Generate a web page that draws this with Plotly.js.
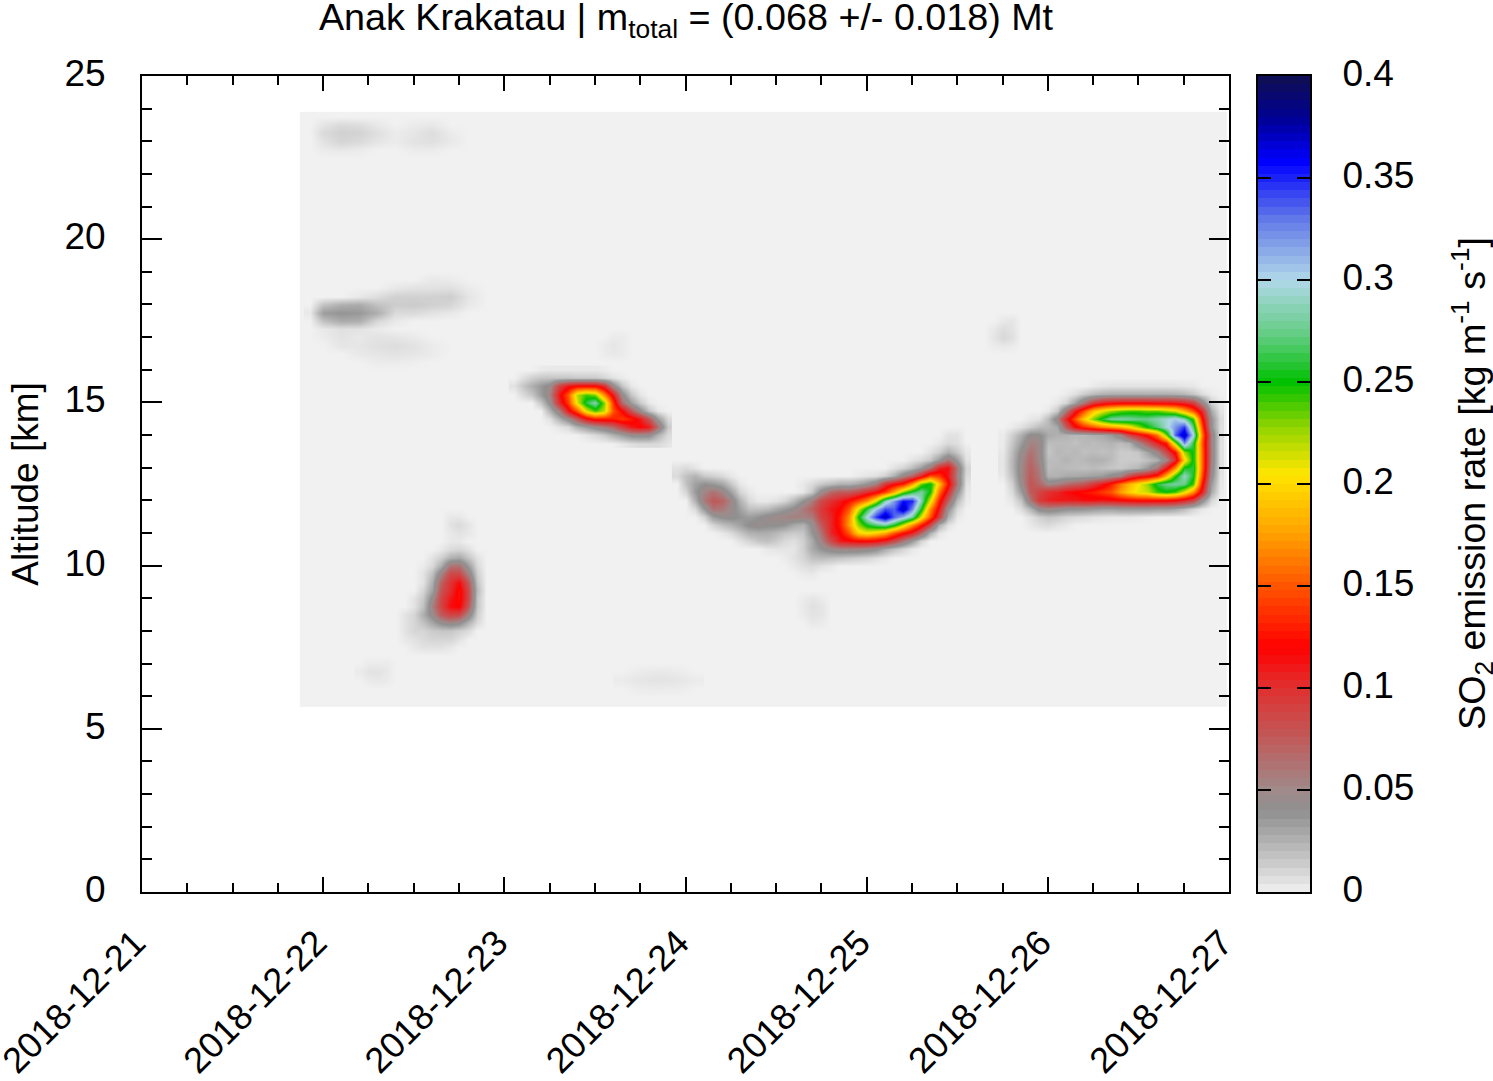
<!DOCTYPE html>
<html><head><meta charset="utf-8">
<script src="https://cdn.plot.ly/plotly-3.0.1.min.js"></script>
<style>html,body{margin:0;padding:0;background:#fff}#g{width:1493px;height:1081px}</style>
</head><body><div id="g"></div>
<script>
// All emission rates below are in units of 0.001 kg m-1 s-1.
const paletteValues = [0,6,20,40,50,75,100,120,150,175,205,228,250,272,300,330,358,380,400];
const paletteColors = ['#f1f1f1','#e0e0e0','#bcbcbc','#909090','#a08a8a','#c05a5a','#e03030','#ff0000','#ff5500','#ffa000','#ffe600','#90d400','#00c000','#60cc80','#b0d8e8','#6078e8','#0000ff','#000090','#101050'];
const scaleTicks = [0,50,100,150,200,250,300,350,400];
const scaleTickText = ['0','0.05','0.1','0.15','0.2','0.25','0.3','0.35','0.4'];
const scaleLevels = [2,6,10,14,18,22,26,30,34,38,42,46,50,54,58,62,66,70,74,78,82,86,90,94,98,102,106,110,114,118,122,126,130,134,138,142,146,150,154,158,162,166,170,174,178,182,186,190,194,198,202,206,210,214,218,222,226,230,234,238,242,246,250,254,258,262,266,270,274,278,282,286,290,294,298,302,306,310,314,318,322,326,330,334,338,342,346,350,354,358,362,366,370,374,378,382,386,390,394,398];

// Column days (day of December 2018) and altitudes (km, top to bottom); each row: [first column, values...]
const plumeADays = [22.40,22.45,22.50,22.55,22.60,22.65,22.70,22.75,22.80,22.85,22.90];
const plumeAAlt = [11.75,11.5,11.25,11,10.75,10.5,10.25,10,9.75,9.5,9.25,9,8.75,8.5,8.25,8,7.75,7.5,7.25];
const plumeARows = [[0],[6,3,3],[6,5,8,4],[6,3,5,3],[6,3,3],[5,3,8,10,6],
 [4,5,12,24,28,16,5],[3,2,8,26,60,62,34,8],[3,5,18,52,85,85,52,12],[3,5,26,72,98,115,76,16],[3,10,32,80,100,125,86,20],
 [2,5,15,46,88,110,125,86,16],[2,5,18,55,88,115,120,76,16],[1,5,10,26,46,76,88,86,52,12],[1,5,10,18,30,44,52,44,24,8],
 [1,5,10,10,14,16,16,12,8],[1,3,5,8,10,10,10,5],[2,3,5,5,5,3],[0]];

const plumeBDays = [23.05,23.10,23.15,23.20,23.25,23.30,23.35,23.40,23.45,23.50,23.55,23.60,23.65,23.70,23.75,23.80,23.85,23.90];
const plumeBAlt = [16,15.75,15.5,15.25,15,14.75,14.5,14.25,14,13.75];
const plumeBRows = [[3,2,3,3,3,3,3,3,2],[1,6,12,16,16,16,16,14,14,14,10,5,2],[0,5,16,26,36,46,88,110,120,120,120,100,46,16,3],
 [1,8,16,34,54,110,150,220,240,230,170,110,46,16,4],[3,16,44,100,140,210,260,285,230,140,66,34,14,3],
 [4,24,54,110,150,210,240,220,150,120,78,44,16,3],[4,6,24,44,76,110,130,130,130,140,130,110,76,34,8],
 [5,4,8,24,34,46,56,68,90,110,120,110,62,14],[8,4,8,14,24,34,44,46,44,24,8],[12,3,6,8,8,8,4]];

const plumeCDays = [23.95,24.00,24.05,24.10,24.15,24.20,24.25,24.30,24.35,24.40,24.45,24.50,24.55,24.60,24.65,24.70,24.75,24.80,24.85,24.90,24.95,25.00,25.05,25.10,25.15,25.20,25.25,25.30,25.35,25.40,25.45,25.50,25.55];
const plumeCAlt = [14.25,14,13.75,13.5,13.25,13,12.75,12.5,12.25,12,11.75,11.5,11.25,11,10.75,10.5,10.25,10,9.75,9.5];
const plumeCRows = [[0],[30,5,5],[29,3,8,6],[28,5,12,25,15,3],[26,4,8,15,35,60,35,5],
 [0,5,8,4,0,0,0,0,0,0,0,0,0,0,0,0,0,0,0,0,0,0,0,0,0,5,10,20,35,60,105,115,60,10],
 [0,8,18,24,15,12,8,3,0,0,0,0,0,0,0,0,0,0,0,0,0,2,4,6,12,25,50,70,105,150,140,110,55,8],
 [0,0,18,32,40,36,30,15,3,0,0,0,0,0,0,3,8,15,20,25,25,30,40,55,95,115,130,175,235,255,190,125,60,5],
 [0,0,10,36,52,62,52,32,10,3,0,0,0,0,0,3,15,46,68,75,75,85,100,115,140,180,230,260,280,250,160,100,40,3],
 [0,0,0,24,58,76,70,52,24,8,3,3,5,10,22,40,58,85,100,110,125,145,170,215,285,320,355,350,285,210,130,70,20,2],
 [0,0,0,8,36,62,58,48,32,18,18,20,28,36,44,58,72,95,110,120,150,210,260,305,340,335,375,325,255,170,110,40,8,0],
 [0,0,0,0,10,34,42,44,38,34,38,46,50,52,56,54,58,90,105,130,170,245,300,345,375,335,310,280,210,150,90,25,3,0],
 [0,0,0,0,0,10,18,24,32,42,46,42,42,38,28,24,42,75,105,130,175,225,255,270,280,255,215,170,130,85,25,5,0,0],
 [5,3,8,16,24,26,26,22,16,14,16,38,62,105,120,150,195,205,195,180,150,125,105,70,25,4],
 [7,5,10,16,18,14,8,6,12,28,52,85,110,115,120,120,115,105,85,60,35,10],
 [10,3,4,4,4,12,28,38,48,52,52,52,48,42,28,18,10,3],[12,2,5,10,18,20,18,16,14,12,10,6,3],[13,3,6,8,5,3],[14,2,3],[0]];

const plumeDDays = [25.75,25.80,25.85,25.90,25.95,26.00,26.05,26.10,26.15,26.20,26.25,26.30,26.35,26.40,26.45,26.50,26.55,26.60,26.65,26.70,26.75,26.80,26.85,26.90,26.95];
const plumeDAlt = [15.75,15.5,15.25,15,14.75,14.5,14.25,14,13.75,13.5,13.25,13,12.75,12.5,12.25,12,11.75,11.5,11.25,11];
const plumeDRows = [[0],[10,2,4,5,5,5,5,5,5,5,5,4,3],[7,2,6,14,20,24,26,26,26,26,26,26,26,25,22,16,7,2],
 [6,3,10,32,62,92,108,115,118,118,118,118,115,115,112,105,92,50,12,2],
 [5,3,15,60,110,150,190,210,225,235,240,240,235,235,225,215,185,150,100,28,4],
 [3,3,5,20,50,105,150,195,230,258,280,282,280,275,275,285,295,305,285,240,125,40,7],
 [1,2,6,12,20,22,28,75,115,135,150,165,175,185,200,225,250,270,295,320,345,270,145,40,6],
 [0,2,12,26,44,42,28,25,24,22,22,26,28,35,50,85,105,125,160,230,335,375,300,160,55,6],
 [0,2,16,34,54,50,20,20,20,18,22,20,22,24,20,24,50,75,105,130,225,325,260,150,55,5],
 [0,3,20,44,62,50,16,22,20,22,18,20,18,20,14,14,16,30,50,85,125,225,255,155,55,5],
 [0,4,22,48,68,50,20,20,24,20,22,25,25,20,14,14,14,18,25,50,100,195,255,155,55,5],
 [0,4,22,50,72,56,20,22,20,20,18,20,18,16,15,18,22,35,60,110,170,255,260,155,50,5],
 [0,3,18,50,74,60,24,24,28,28,30,32,35,45,55,85,105,115,135,185,245,290,255,145,45,4],
 [0,0,12,44,78,68,50,55,65,72,78,95,110,130,160,185,205,225,260,275,280,275,240,125,35,3],
 [0,0,8,34,74,88,100,105,115,120,125,130,140,150,175,195,210,215,240,250,240,210,170,105,28,2],
 [0,0,4,18,60,95,105,110,110,110,115,115,112,115,118,122,125,125,125,125,120,108,90,45,10,0],
 [0,0,0,7,22,45,50,45,40,40,38,35,32,32,35,35,35,35,32,32,28,20,10,3,0,0],
 [3,5,12,16,14,10,8,7,5,4,3,3,3,2,1],[3,3,6,8,5,3],[0]];

const faintDays = [21.93,22.0,22.1,22.2,22.3,22.4,22.5,22.6,22.7,22.8,22.9];
const faintMidAlt = [19,18.75,18.5,18.25,18,17.75,17.5,17.25,17,16.75,16.5,16.25,16];
const faintMidRows = [[0],[7,3,2],[5,3,5,5,6,2],[3,3,7,12,12,12,13,4],[1,18,26,28,18,13,14,12,10,3],[0,3,34,38,36,26,8,8,5,3],
 [1,18,28,26,9,3],[1,3,6,5,2],[1,2,5,3,5,4,2],[2,4,4,6,7,5,2],[3,3,4,5,4,2],[4,2,2,1],[0]];
const faintTopAlt = [23.75,23.5,23.25,23,22.75,22.5];
const faintTopRows = [[0],[1,4,8,7,3,0,2,3],[1,8,12,11,6,2,4,7,2],[1,5,10,8,4,2,5,6,3],[1,2,3,2,0,0,2,2],[0]];

const spotDays = [[25.65,25.70,25.75,25.80,25.85],[24.60,24.65,24.70,24.75,24.80],[23.50,23.55,23.60,23.65,23.70],[22.20,22.25,22.30,22.35,22.40],[23.65,23.75,23.85,23.95,24.05]];
const spotAlts = [[17.75,17.5,17.25,17,16.75,16.5],[9.25,9,8.75,8.5,8.25,8],[17.25,17,16.75,16.5,16.25,16],[7.25,7,6.75,6.5,6.25,6],[7,6.75,6.5,6.25,6]];
const spotRows = [
 [[0],[2,3,4],[1,3,7,5],[1,4,9,6],[1,2,3,2],[0]],
 [[0],[1,2,4,2],[1,3,6,4],[1,2,5,4],[2,3,2],[0]],
 [[0],[2,2,2],[1,2,4,2],[1,2,3,2],[0],[0]],
 [[0],[1,2,2,2],[0,2,5,5,3],[1,2,3,2],[0],[0]],
 [[0],[1,2,3,2],[0,2,4,5,4,2],[1,2,2,2],[0]]
];

// Build full matrices from the sparse rows
const dayToMs = d => Date.UTC(2018,11,1) + (d-1)*86400000;
const dense = (rows,n) => rows.map(r => { const a = new Array(n).fill(0); r.slice(1).forEach((v,i)=>{a[r[0]+i]=v;}); return a; }).reverse();
const colorscale = paletteValues.map((v,i)=>[v/400,paletteColors[i]]);
const plume = (days,alts,rows) => ({type:'heatmap',x:days.map(dayToMs),y:alts.slice().reverse(),z:dense(rows,days.length),
  zmin:0,zmax:400,colorscale,showscale:false,zsmooth:'best',hoverinfo:'skip',xaxis:'x',yaxis:'y'});

const data = [
 {type:'heatmap',x:[dayToMs(21.871),dayToMs(26.989)],y:[5.67,23.9],z:[[0]],zmin:0,zmax:400,colorscale,showscale:false,hoverinfo:'skip',xaxis:'x',yaxis:'y'},
 plume(faintDays,faintTopAlt,faintTopRows),
 plume(faintDays,faintMidAlt,faintMidRows),
 ...spotDays.map((d,i)=>plume(d,spotAlts[i],spotRows[i])),
 plume(plumeADays,plumeAAlt,plumeARows),
 plume(plumeBDays,plumeBAlt,plumeBRows),
 plume(plumeCDays,plumeCAlt,plumeCRows),
 plume(plumeDDays,plumeDAlt,plumeDRows),
 {type:'heatmap',x:[0],y:scaleLevels,z:scaleLevels.map(v=>[v]),zmin:0,zmax:400,colorscale,showscale:false,hoverinfo:'skip',xaxis:'x2',yaxis:'y2'}
];

const FONT = 'Liberation Sans, Arial, Helvetica, sans-serif';
const W = 1493, H = 1081, L = 142, R = 1310;
const PW = R-L;
const layout = {
 width:W,height:H,paper_bgcolor:'#fff',plot_bgcolor:'#fff',showlegend:false,
 font:{family:FONT,size:37,color:'#000'},
 margin:{l:L,r:W-R,t:76,b:189,pad:0},
 title:{text:'Anak Krakatau | m<sub>total</sub> = (0.068 +/- 0.018) Mt',x:(686-L)/PW,xref:'paper',xanchor:'center',y:1-17/H,yref:'container',yanchor:'middle',font:{family:FONT,size:37.7,color:'#000'}},
 xaxis:{type:'date',domain:[0,1087/PW],range:['2018-12-21','2018-12-27'],anchor:'y',
  tick0:'2018-12-21',dtick:86400000,tickformat:'%Y-%m-%d\u00a0',tickangle:-45,ticks:'inside',ticklen:15,tickwidth:2,tickcolor:'#000',
  ticklabelstandoff:6,ticklabeloverflow:'allow',showline:true,linecolor:'#000',linewidth:2,mirror:'allticks',showgrid:false,zeroline:false,
  minor:{dtick:21600000,tick0:'2018-12-21',ticks:'inside',ticklen:9,tickwidth:2,tickcolor:'#000',showgrid:false},
  tickfont:{family:FONT,size:36,color:'#000'}},
 yaxis:{range:[0,25],anchor:'x',tickvals:[0,5,10,15,20,25],ticks:'inside',ticklen:20,tickwidth:2,tickcolor:'#000',
  ticklabelstandoff:27,ticklabelshift:-3,showline:true,linecolor:'#000',linewidth:2,mirror:'allticks',showgrid:false,zeroline:false,
  minor:{dtick:1,ticks:'inside',ticklen:10,tickwidth:2,tickcolor:'#000',showgrid:false},
  title:{text:'Altitude [km]',font:{family:FONT,size:37,color:'#000'},standoff:14},
  tickfont:{family:FONT,size:37,color:'#000'}},
 xaxis2:{domain:[(1258-L)/PW,1],range:[-0.5,0.5],anchor:'y2',showticklabels:false,ticks:'',showline:true,linecolor:'#000',linewidth:2,mirror:true,showgrid:false,zeroline:false},
 yaxis2:{domain:[0,1],range:[0,400],anchor:'x2',side:'right',tickvals:scaleTicks,ticktext:scaleTickText,ticks:'inside',ticklen:13,tickwidth:2,tickcolor:'#000',
  ticklabelstandoff:23,ticklabelshift:-3,showline:true,linecolor:'#000',linewidth:2,mirror:'allticks',showgrid:false,zeroline:false,
  tickfont:{family:FONT,size:37,color:'#000'}},
 annotations:[{text:'SO<sub>2</sub> emission rate [kg m<sup>-1</sup> s<sup>-1</sup>]',xref:'paper',yref:'paper',x:(1472-L)/PW,y:(892-484)/816,xanchor:'center',yanchor:'middle',textangle:-90,showarrow:false,font:{family:FONT,size:37.7,color:'#000'}}]
};
Plotly.newPlot('g',data,layout,{displayModeBar:false,responsive:false});
</script></body></html>
